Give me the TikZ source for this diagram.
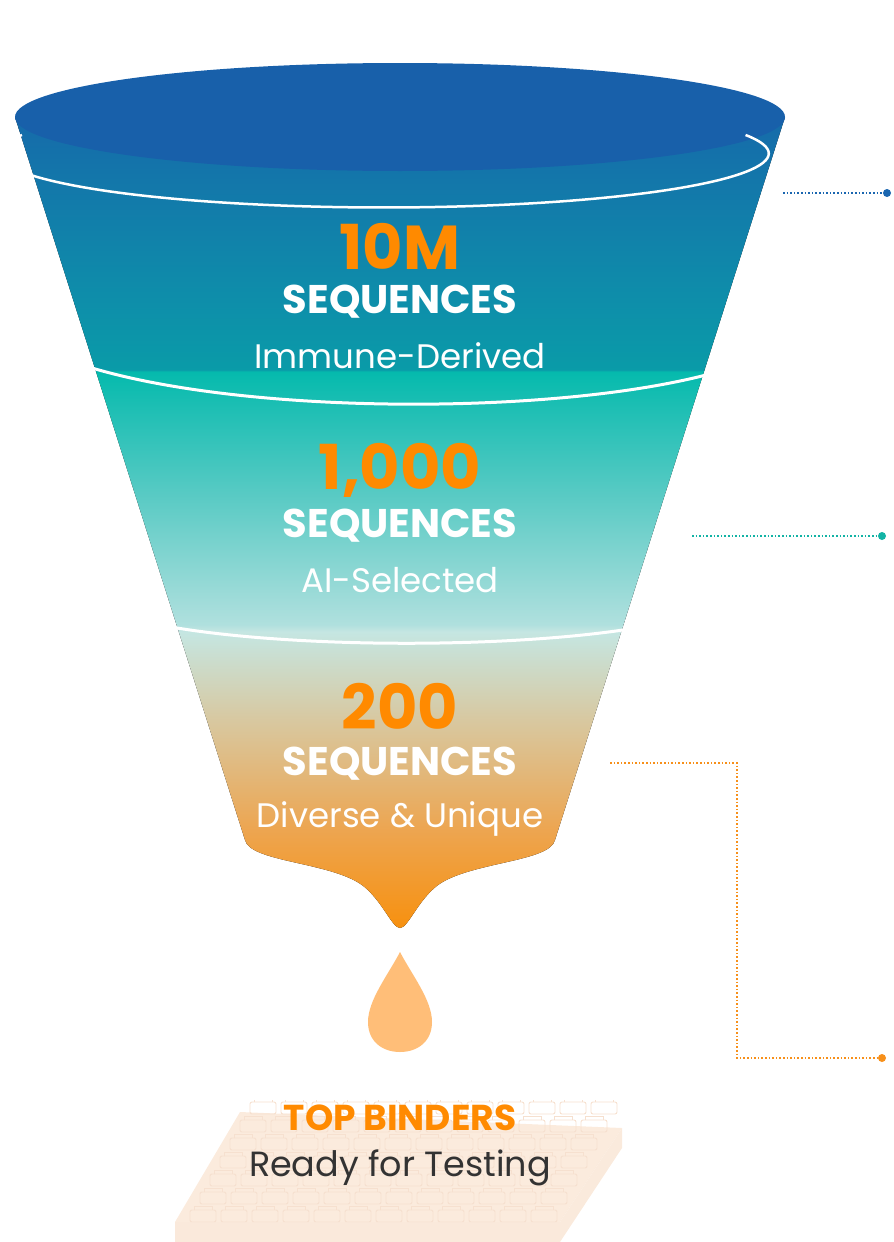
\documentclass[tikz,border=0pt]{standalone}
\usepackage{fontspec}
\setmainfont{Poppins}
\usetikzlibrary{calc}
\definecolor{fblue}{HTML}{1860AA}
\definecolor{lblue}{HTML}{1A66B0}
\definecolor{lteal}{HTML}{12B3A5}
\definecolor{lorange}{HTML}{F7901A}
\definecolor{numor}{HTML}{FF8A00}
\definecolor{plate}{HTML}{FBEBDD}
\definecolor{well}{HTML}{F6E0CF}
\definecolor{dropc}{HTML}{FFBE78}
\definecolor{gA}{HTML}{F7900E}
\definecolor{gB}{HTML}{EDA550}
\definecolor{gC}{HTML}{D8C8A0}
\definecolor{gD}{HTML}{C5E6E2}
\definecolor{gE}{HTML}{B0E0DE}
\definecolor{gF}{HTML}{5CCBC5}
\definecolor{gG}{HTML}{05BAAD}
\definecolor{gH}{HTML}{0A9BA8}
\definecolor{gI}{HTML}{0E8EAA}
\definecolor{gJ}{HTML}{1860AA}
\pgfdeclareverticalshading{funnelsh}{100bp}{
 color(0bp)=(gA);
 color(25bp)=(gA);
 color(30.75bp)=(gB);
 color(37.1bp)=(gC);
 color(42.2bp)=(gD);
 color(42.6bp)=(gE);
 color(49.8bp)=(gF);
 color(57.2bp)=(gG);
 color(57.3bp)=(gH);
 color(61.35bp)=(gI);
 color(75bp)=(gJ);
 color(100bp)=(gJ)}
\tikzset{
 num/.style={font=\fontsize{62}{62}\selectfont\bfseries, text=numor, inner sep=0},
 seq/.style={font=\fontsize{40}{40}\selectfont\bfseries, text=white, inner sep=0},
 sub/.style={font=\fontsize{34}{34}\selectfont, text=white, inner sep=0},
 sep/.style={white, line width=3pt},
 lead/.style={dotted, line width=1.6pt},
}
\begin{document}
\begin{tikzpicture}[x=1pt,y=-1pt]
\useasboundingbox (0,0) rectangle (894,1242);
% funnel body
\begin{scope}
\clip (15,117) -- (245,840) .. controls (250,862) and (330,862) .. (362,885) .. controls (382,900) and (392,928) .. (400,928)
 .. controls (408,928) and (418,900) .. (438,885) .. controls (470,862) and (550,862) .. (555,840) -- (785,117) -- cycle;
\fill[shading=funnelsh] (0,63) rectangle (894,930);
\end{scope}
% top ellipse
\fill[fblue] (400,117) ellipse[x radius=385, y radius=54];
\draw[white, line width=2.5pt] (22,135) arc[start angle=200, end angle=-20, x radius=385, y radius=54];
% separators
\draw[sep] (92,368) .. controls (250,415) and (550,415) .. (706,375);
\draw[sep] (177,628) .. controls (300,648) and (500,648) .. (623,630);
% texts
\node[num] (n1) at (400,246) {10M};
\node[seq] (s1) at (400,302) {SEQUENCES};
\node[sub] (d1) at (400,356) {Immune-Derived};
\node[num] (n2) at (400,470) {1,000};
\node[seq] (s2) at (400,526) {SEQUENCES};
\node[sub] (d2) at (400,580) {AI-Selected};
\node[num] (n3) at (400,706) {200};
\node[seq] (s3) at (400,764) {SEQUENCES};
\node[sub] (d3) at (400,819) {Diverse \& Unique};
% drop
\fill[dropc] (400,952) .. controls (388,975) and (368,1000) .. (368,1022) .. controls (368,1042) and (383,1052) .. (400,1052)
 .. controls (417,1052) and (432,1042) .. (432,1022) .. controls (432,1000) and (412,975) .. (400,952) -- cycle;
% plate
\fill[plate] (240,1112) -- (622,1128) -- (560,1222) -- (175,1222) -- cycle;
\fill[plate!85!well] (175,1222) rectangle (560,1242);
\fill[plate!90!well] (560,1222) -- (622,1128) -- (622,1148) -- (560,1242) -- cycle;
\begin{scope}
\clip (240,1100) -- (622,1100) -- (622,1128) -- (560,1222) -- (175,1222) -- cycle;
\foreach \r in {0,...,6}{
  \foreach \c in {0,...,11}{
    \pgfmathsetmacro{\yy}{1098+\r*18}
    \pgfmathsetmacro{\xx}{250+\c*31-\r*10}
    \draw[well, line width=0.9pt, rounded corners=2pt] (\xx,\yy+4) rectangle ++(26,12);
    \draw[well, line width=0.7pt] (\xx+4,\yy+4) -- (\xx+4,\yy) -- (\xx+22,\yy) -- (\xx+22,\yy+4);
  }
}
\end{scope}
\node[font=\fontsize{36}{36}\selectfont\bfseries, text=numor, inner sep=0] (tb) at (400,1118) {TOP BINDERS};
\node[font=\fontsize{35}{35}\selectfont, text=black!80, inner sep=0] (rt) at (400,1168) {Ready for Testing};
% leaders
\coordinate (a1) at (783,193); \coordinate (b1) at (887,193);
\draw[lead, lblue] (a1) -- (b1); \fill[lblue] (b1) circle (4);
\coordinate (a2) at (692,536); \coordinate (b2) at (882,536);
\draw[lead, lteal] (a2) -- (b2); \fill[lteal] (b2) circle (4);
\coordinate (a3) at (610,763); \coordinate (k3) at (737,763); \coordinate (k4) at (737,1058); \coordinate (b3) at (882,1058);
\draw[lead, lorange] (a3) -- (k3) -- (k4) -- (b3); \fill[lorange] (b3) circle (4);
\end{tikzpicture}
\end{document}
